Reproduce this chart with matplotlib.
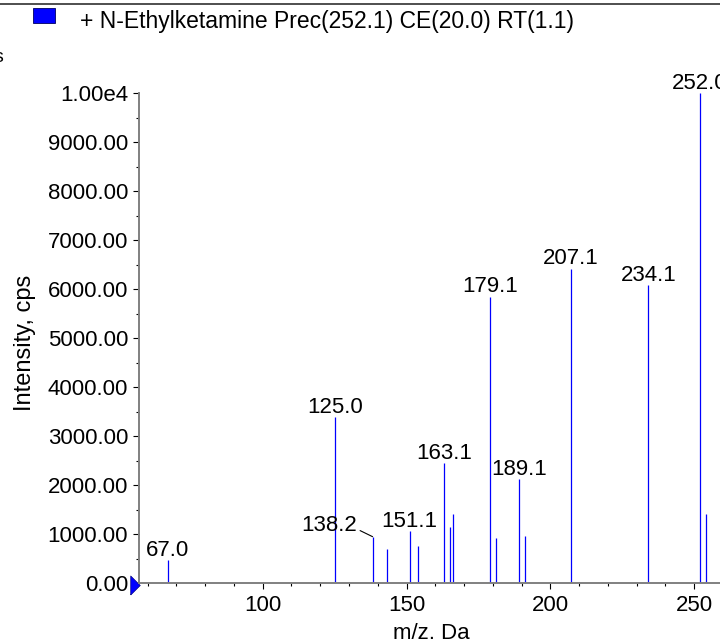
"""MS/MS product ion spectrum for N-Ethylketamine, stick plot."""

import matplotlib

matplotlib.use("Agg")
import matplotlib.pyplot as plt
import matplotlib.transforms as mtransforms
from matplotlib.lines import Line2D
from matplotlib.patches import Rectangle
from matplotlib.ticker import FuncFormatter, MultipleLocator

plt.rcParams["font.family"] = ["Liberation Sans", "DejaVu Sans"]

TITLE = "+ N-Ethylketamine Prec(252.1) CE(20.0) RT(1.1)"

# peak m/z and intensity (cps)
mz = [67.0, 125.0, 138.2, 143.1, 151.1, 154.1, 163.1, 165.1, 166.1,
      179.1, 181.1, 189.1, 191.1, 207.1, 234.1, 252.0, 254.0]
intensity = [470, 3380, 945, 695, 1060, 755, 2440, 1150, 1415,
             5840, 910, 2115, 965, 6410, 6075, 10000, 1410]

# which peaks get a label, and the label text
labelled_mz = [67.0, 125.0, 138.2, 151.1, 163.1, 179.1, 189.1, 207.1, 234.1, 252.0]
labels = ["67.0", "125.0", "138.2", "151.1", "163.1", "179.1", "189.1", "207.1", "234.1", "252.0"]

XLIM = (57, 260)
YLIM = (0, 10000)
BLUE = "#0000ff"
AXIS_GREY = "#808080"
FS = 16


def _ytick(v, _pos):
    if v >= 10000:
        return f"{v:.2e}".replace("e+0", "e")
    return f"{v:.2f}"


fig = plt.figure(figsize=(7.2, 6.39), dpi=100)
# plot area: y axis at x=139px, 0 at y=583px, 1e4 at y=93px
left = 139 / 720
right = 723 / 720
bottom = 1 - 583 / 639
top = 1 - 93 / 639
ax = fig.add_axes([left, bottom, right - left, top - bottom])

ax.vlines(mz, 0, intensity, color=BLUE, linewidth=0.9)

for m, txt in zip(labelled_mz, labels):
    h = intensity[mz.index(m)]
    if txt == "138.2":
        # offset label with a leader line to the peak top
        ax.annotate(txt, xy=(m, h), xytext=(-11, 8.4), textcoords="offset points",
                    ha="right", va="center", fontsize=FS,
                    arrowprops=dict(arrowstyle="-", color="black", lw=0.8,
                                    shrinkA=0, shrinkB=0, relpos=(1.0, 0.3)))
    else:
        ax.annotate(txt, xy=(m, h), xytext=(0, 3.2), textcoords="offset points",
                    ha="center", va="baseline", fontsize=FS, annotation_clip=False)

ax.set_xlim(*XLIM)
ax.set_ylim(*YLIM)

ax.xaxis.set_major_locator(MultipleLocator(50))
ax.xaxis.set_minor_locator(MultipleLocator(10))
ax.yaxis.set_major_locator(MultipleLocator(1000))
ax.yaxis.set_minor_locator(MultipleLocator(500))
ax.yaxis.set_major_formatter(FuncFormatter(_ytick))

for side in ["top", "right"]:
    ax.spines[side].set_visible(False)
for side in ["left", "bottom"]:
    ax.spines[side].set_color(AXIS_GREY)
    ax.spines[side].set_linewidth(1.4)

ax.tick_params(which="major", direction="out", length=4.3, width=0.8, color="black",
               labelsize=FS)
ax.tick_params(which="minor", direction="out", length=2.5, width=0.8, color="black")
ax.tick_params(axis="y", which="minor", length=2)
ax.tick_params(axis="y", pad=3.5)
ax.tick_params(axis="x", pad=4)

ax.set_xlabel("m/z, Da", fontsize=FS)
ax.xaxis.set_label_coords(0.5, -0.081)
ax.set_ylabel("Intensity, cps", fontsize=FS + 1)
ax.yaxis.set_label_coords(-0.177, 0.49)

# origin marker on the y axis (tall, narrow right-pointing triangle)
tri = [(-0.5, -1.0), (0.5, 0.0), (-0.5, 1.0), (-0.5, -1.0)]
offset = mtransforms.offset_copy(ax.transData, fig=fig, x=-4, y=-2, units="dots")
ax.plot([XLIM[0]], [0], marker=tri, markersize=13.7, color=BLUE,
        markeredgecolor="#000080", markeredgewidth=0.5,
        transform=offset, clip_on=False)

# pane frame line and legend header
fig.add_artist(Line2D([0, 1], [1 - 4 / 639, 1 - 4 / 639], color="#303030", lw=1.2))
fig.add_artist(Rectangle((33 / 720, 1 - 23 / 639), 22 / 720, 15 / 639,
                         facecolor=BLUE, edgecolor="#000060", lw=0.6))
fig.text(80 / 720, 1 - 28 / 639, TITLE, fontsize=FS + 0.5, va="baseline", ha="left")
# truncated text at the pane edge
fig.text(0.004, 1 - 57 / 639, "s", fontsize=FS - 2, ha="right", va="center")

fig.savefig("out.png", dpi=100)
